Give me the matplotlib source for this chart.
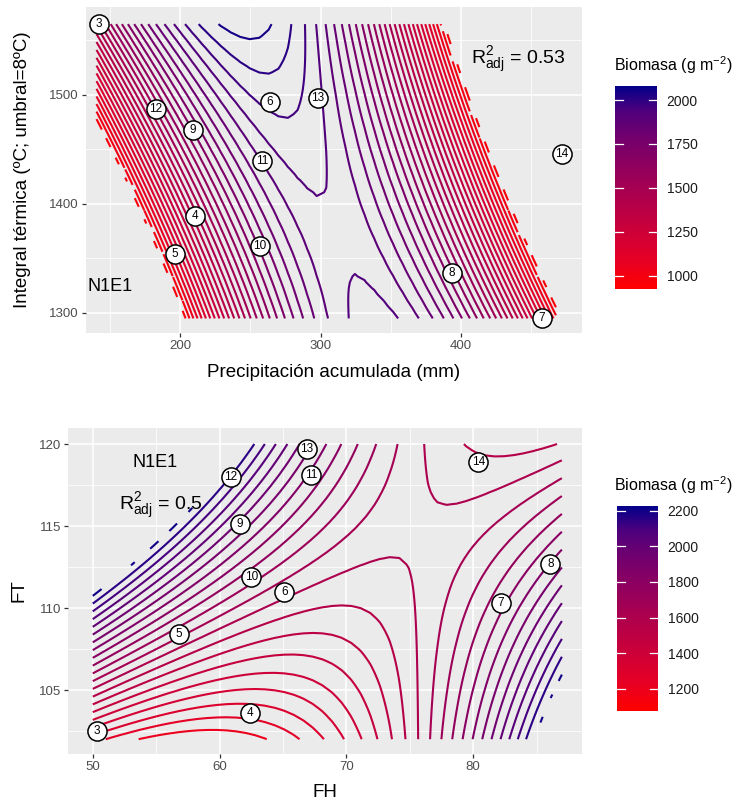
import numpy as np
import matplotlib
matplotlib.use("Agg")
import matplotlib.pyplot as plt
from matplotlib.colors import LinearSegmentedColormap, Normalize
from matplotlib.ticker import FixedLocator

plt.rcParams.update({"font.family": "Liberation Sans", "mathtext.fontset": "custom",
                     "mathtext.rm": "Liberation Sans", "mathtext.it": "Liberation Sans:italic",
                     "mathtext.bf": "Liberation Sans:bold"})

# red -> darkblue, stops taken along a Lab interpolation
cmap = LinearSegmentedColormap.from_list("biomasa", [
    (0.0, "#FF0000"), (0.125, "#E90022"), (0.25, "#D30035"), (0.5, "#A50053"),
    (0.75, "#71006F"), (0.875, "#4F007D"), (1.0, "#00008B")])

# ---- panel 1: precipitacion acumulada vs integral termica
pp_range = [140, 475]
it_range = [1295, 1565]
# fitted second-order surface: saddle (x, y), value at saddle, x^2 / xy / y^2 terms
pp_saddle = [312, 1371]
pp_f0 = 1915.3
pp_quad = [-0.054, -0.0367, -0.00241]
pp_keep = (925, 1e9)
pp_levels = np.arange(964.8, 2080, 39.8)
pp_lims = (925, 2080)
pp_cbar_ticks = [1000, 1250, 1500, 1750, 2000]

sitio_1 = [3, 12, 9, 6, 13, 11, 4, 10, 5, 8, 7, 14]
pp_1 = [141.8, 182.5, 208.9, 263.9, 298.2, 258.2, 210.4, 256.8, 196.1, 393.9, 458.2, 472.5]
it_1 = [1565, 1487, 1468, 1494, 1497, 1439, 1389, 1361, 1354, 1337, 1295, 1446]

# ---- panel 2: FH vs FT
fh_range = [50, 87]
ft_range = [102, 120]
fh_saddle = [75.8, 114.7]
fh_f0 = 1607
fh_quad = [1.52, -4.1, 0.0]
fh_keep = (0, 2215)
fh_levels = np.arange(1150, 2201, 50)
fh_lims = (1074, 2228)
fh_cbar_ticks = [1200, 1400, 1600, 1800, 2000, 2200]

sitio_2 = [3, 4, 5, 6, 10, 9, 12, 13, 11, 14, 7, 8]
fh_2 = [50.3, 62.4, 56.8, 65.1, 62.5, 61.6, 60.9, 66.9, 67.2, 80.4, 82.2, 86.1]
ft_2 = [102.5, 103.6, 108.4, 111.0, 111.9, 115.1, 118.0, 119.7, 118.1, 118.9, 110.3, 112.7]


def surface(xr, yr, saddle, f0, quad, keep, n=50):
    X, Y = np.meshgrid(np.linspace(*xr, n), np.linspace(*yr, n))
    dx, dy = X - saddle[0], Y - saddle[1]
    Z = f0 + quad[0] * dx ** 2 + quad[1] * dx * dy + quad[2] * dy ** 2
    Z = np.ma.masked_where((Z < keep[0]) | (Z > keep[1]), Z)
    return X, Y, Z


def panel(ax, surf, levels, lims, ids, xs, ys, xlim, ylim, xmaj, xmin, ymaj, ymin):
    ax.set_facecolor("#EBEBEB")
    for s in ax.spines.values():
        s.set_visible(False)
    ax.set_xlim(xlim); ax.set_ylim(ylim)
    ax.xaxis.set_major_locator(FixedLocator(xmaj)); ax.xaxis.set_minor_locator(FixedLocator(xmin))
    ax.yaxis.set_major_locator(FixedLocator(ymaj)); ax.yaxis.set_minor_locator(FixedLocator(ymin))
    ax.grid(which="major", color="white", lw=1.1)
    ax.grid(which="minor", color="white", lw=0.55)
    ax.set_axisbelow(True)
    ax.tick_params(which="major", length=3, width=0.9, color="#333333",
                   labelcolor="#4D4D4D", labelsize=9.5, pad=2)
    ax.tick_params(which="minor", length=0)
    ax.contour(*surf, levels=levels, cmap=cmap, norm=Normalize(*lims), linewidths=1.5)
    ax.scatter(xs, ys, s=190, facecolor="white", edgecolor="black", lw=1.1, zorder=3)
    for i, x, y in zip(ids, xs, ys):
        ax.text(x, y, str(i), ha="center", va="center", fontsize=8.5, zorder=4)


def colourbar(rect, lims, ticks, title, title_xy):
    cax = fig.add_axes(rect)
    cax.imshow(np.linspace(0, 1, 256)[:, None], aspect="auto", cmap=cmap, origin="lower",
               extent=[0, 1, lims[0], lims[1]])
    cax.set_xlim(0, 1); cax.set_ylim(lims)
    for t in ticks:
        cax.plot([0, 0.2], [t, t], color="white", lw=0.9)
        cax.plot([0.8, 1], [t, t], color="white", lw=0.9)
    for s in cax.spines.values():
        s.set_visible(False)
    cax.set_xticks([])
    cax.set_yticks(ticks)
    cax.yaxis.tick_right()
    cax.tick_params(length=0, pad=7, labelsize=10, labelcolor="#1A1A1A")
    fig.text(*title_xy, title, fontsize=11.5, va="center", ha="left")


fig = plt.figure(figsize=(7.55, 8.05), dpi=100)

ax1 = fig.add_axes([0.1139, 0.5863, 0.6570, 0.4050])
panel(ax1, surface(pp_range, it_range, pp_saddle, pp_f0, pp_quad, pp_keep), pp_levels, pp_lims,
      sitio_1, pp_1, it_1, (132.5, 486.8), (1281.6, 1580.7),
      [200, 300, 400], [150, 250, 350, 450], [1300, 1400, 1500], [1350, 1450, 1550])
ax1.set_xlabel("Precipitación acumulada (mm)", fontsize=13.5, labelpad=9)
ax1.set_ylabel("Integral térmica (ºC; umbral=8ºC)", fontsize=13.5, labelpad=13)
ax1.text(150, 1324, "N1E1", ha="center", va="center", fontsize=13)
ax1.text(441, 1532, r"$\mathrm{R}^{2}_{\mathrm{adj}}$ = 0.53", ha="center", va="center", fontsize=14)

ax2 = fig.add_axes([0.0901, 0.0634, 0.6808, 0.4050])
panel(ax2, surface(fh_range, ft_range, fh_saddle, fh_f0, fh_quad, fh_keep), fh_levels, fh_lims,
      sitio_2, fh_2, ft_2, (48.05, 88.59), (101.1, 120.98),
      [50, 60, 70, 80], [55, 65, 75, 85], [105, 110, 115, 120], [102.5, 107.5, 112.5, 117.5])
ax2.set_xlabel("FH", fontsize=13.5, labelpad=8)
ax2.set_ylabel("FT", fontsize=13.5, labelpad=8)
ax2.text(54.9, 118.9, "N1E1", ha="center", va="center", fontsize=13)
ax2.text(55.4, 116.2, r"$\mathrm{R}^{2}_{\mathrm{adj}}$ = 0.5", ha="center", va="center", fontsize=14)

colourbar([0.8146, 0.6410, 0.0556, 0.2522], pp_lims, pp_cbar_ticks,
          r"Biomasa (g m$^{-2}$)", (0.813, 1 - 65 / 805))
colourbar([0.8172, 0.1168, 0.0543, 0.2547], fh_lims, fh_cbar_ticks,
          r"Biomasa (g m$^{-2}$)", (0.813, 1 - 485 / 805))

fig.savefig("out.png", dpi=100)
